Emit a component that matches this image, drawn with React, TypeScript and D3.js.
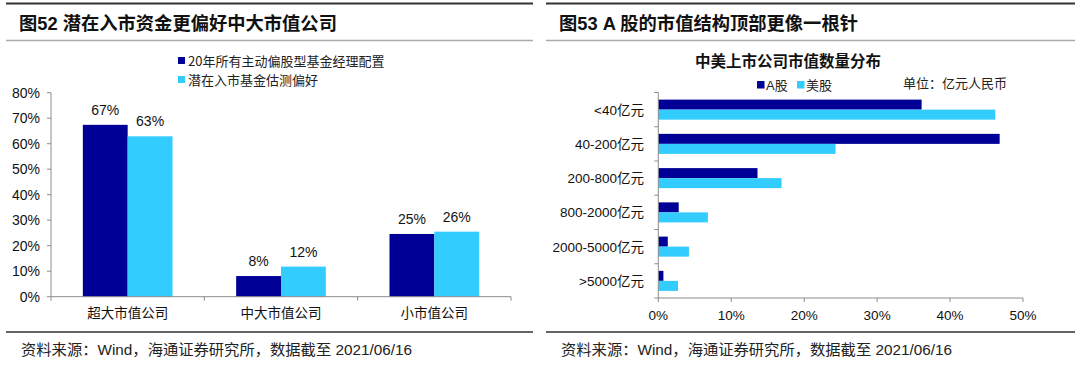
import * as d3 from "d3";

const leftCats = ["超大市值公司", "中大市值公司", "小市值公司"];
const leftSeries = ["20年所有主动偏股型基金经理配置", "潜在入市基金估测偏好"];
const managerAlloc = [67.4, 8.1, 24.6];
const inflowPref = [62.9, 11.8, 25.5];
const leftTicks = [0, 10, 20, 30, 40, 50, 60, 70, 80];

const rightCats = ["<40亿元", "40-200亿元", "200-800亿元", "800-2000亿元", "2000-5000亿元", ">5000亿元"];
const rightSeries = ["A股", "美股"];
const aShares = [36.1, 46.8, 13.6, 2.8, 1.3, 0.7];
const usShares = [46.2, 24.3, 16.9, 6.8, 4.2, 2.7];
const rightTicks = [0, 10, 20, 30, 40, 50];

const DARK = "#000096";
const LIGHT = "#33CCFF";
const AXIS = "#8c8c8c";
const NUM_FONT = "'Liberation Sans', Arial, 'Noto Sans CJK SC', sans-serif";
const CJK_FONT = "'Noto Sans CJK SC', sans-serif";
const colors = [DARK, LIGHT];

function Frame({ x0, x1, title }: { x0: number; x1: number; title: string }) {
	return (
		<g>
			<line x1={x0} x2={x1} y1={3.5} y2={3.5} stroke="#333" strokeWidth={2} />
			<text x={x0 + 13} y={30} fontSize={18.3} fontWeight="bold" fontFamily={NUM_FONT} fill="#111">
				{title}
			</text>
			<line x1={x0} x2={x1} y1={40.5} y2={40.5} stroke="#aaa" strokeWidth={1.5} />
			<line x1={x0} x2={x1} y1={332} y2={332} stroke="#333" strokeWidth={1.5} />
			<text x={x0 + 15} y={355} fontSize={15.3} fontFamily={NUM_FONT} fill="#222">
				资料来源：Wind，海通证券研究所，数据截至 2021/06/16
			</text>
		</g>
	);
}

function LeftChart() {
	const x = d3.scaleBand().domain(leftCats).range([51, 511]).padding(0);
	const x1 = d3.scaleBand().domain(leftSeries).range([0, x.bandwidth()]).paddingOuter(0.71).paddingInner(0);
	const y = d3.scaleLinear().domain([0, 80]).range([296.7, 92.7]);
	const data = [managerAlloc, inflowPref];
	return (
		<g fontFamily={NUM_FONT}>
			{leftSeries.map((s, i) => (
				<g key={s}>
					<rect x={178} y={57 + i * 19} width={7} height={7} fill={colors[i]} />
					<text x={188} y={65.5 + i * 19} fontSize={13} fontFamily={CJK_FONT} fill="#222">
						{s}
					</text>
				</g>
			))}
			{leftCats.map((c, ci) =>
				data.map((vals, si) => (
					<g key={c + si}>
						<rect
							x={(x(c) ?? 0) + (x1(leftSeries[si]) ?? 0)}
							y={y(vals[ci])}
							width={x1.bandwidth()}
							height={y(0) - y(vals[ci])}
							fill={colors[si]}
						/>
						<text
							x={(x(c) ?? 0) + (x1(leftSeries[si]) ?? 0) + x1.bandwidth() / 2}
							y={y(vals[ci]) - 10}
							textAnchor="middle"
							fontSize={14}
							fill="#111"
						>
							{Math.round(vals[ci])}%
						</text>
					</g>
				))
			)}
			<line x1={51} x2={51} y1={y(80)} y2={y(0)} stroke={AXIS} />
			{leftTicks.map((t) => (
				<g key={t}>
					<line x1={47} x2={51} y1={y(t)} y2={y(t)} stroke={AXIS} />
					<text x={40} y={y(t) + 5} textAnchor="end" fontSize={14} fill="#111">
						{t}%
					</text>
				</g>
			))}
			<line x1={51} x2={511} y1={y(0)} y2={y(0)} stroke={AXIS} />
			{[...leftCats.map((c) => x(c) ?? 0), 511].map((v, i) => (
				<line key={i} x1={v} x2={v} y1={y(0)} y2={y(0) + 4} stroke={AXIS} />
			))}
			{leftCats.map((c) => (
				<text
					key={c}
					x={(x(c) ?? 0) + x.bandwidth() / 2}
					y={318}
					textAnchor="middle"
					fontSize={13.5}
					fontFamily={CJK_FONT}
					fill="#111"
				>
					{c}
				</text>
			))}
		</g>
	);
}

function RightChart() {
	const y = d3.scaleBand().domain(rightCats).range([92.5, 298]).padding(0);
	const y1 = d3.scaleBand().domain(rightSeries).range([0, y.bandwidth()]).paddingOuter(0.71).paddingInner(0);
	const x = d3.scaleLinear().domain([0, 50]).range([658.3, 1023]);
	const data = [aShares, usShares];
	return (
		<g fontFamily={NUM_FONT}>
			<text x={788} y={67} textAnchor="middle" fontSize={15.5} fontWeight="bold" fontFamily={CJK_FONT} fill="#111">
				中美上市公司市值数量分布
			</text>
			{rightSeries.map((s, i) => (
				<g key={s}>
					<rect x={757 + i * 40} y={81} width={7.5} height={7.5} fill={colors[i]} />
					<text x={766 + i * 40} y={89.5} fontSize={13} fill="#222">
						{s}
					</text>
				</g>
			))}
			<text x={903} y={88} fontSize={13} fontFamily={CJK_FONT} fill="#222">
				单位：亿元人民币
			</text>
			{rightCats.map((c, ci) =>
				data.map((vals, si) => (
					<rect
						key={c + si}
						x={x(0)}
						y={(y(c) ?? 0) + (y1(rightSeries[si]) ?? 0)}
						width={x(vals[ci]) - x(0)}
						height={y1.bandwidth()}
						fill={colors[si]}
					/>
				))
			)}
			<line x1={x(0)} x2={x(0)} y1={92.5} y2={298} stroke={AXIS} />
			{[...rightCats.map((c) => y(c) ?? 0), 298].map((v, i) => (
				<line key={i} x1={x(0) - 4} x2={x(0)} y1={v} y2={v} stroke={AXIS} />
			))}
			{rightCats.map((c) => (
				<text
					key={c}
					x={644}
					y={(y(c) ?? 0) + y.bandwidth() / 2 + 5}
					textAnchor="end"
					fontSize={13.5}
					fill="#111"
				>
					{c}
				</text>
			))}
			<line x1={x(0)} x2={x(50)} y1={298} y2={298} stroke={AXIS} />
			{rightTicks.map((t) => (
				<g key={t}>
					<line x1={x(t)} x2={x(t)} y1={298} y2={302} stroke={AXIS} />
					<text x={x(t)} y={320} textAnchor="middle" fontSize={13.5} fill="#111">
						{t}%
					</text>
				</g>
			))}
		</g>
	);
}

export default function App() {
	return (
		<svg
			width={1080}
			height={365}
			style={{ position: "absolute", left: 0, top: 0, background: "#fff" }}
		>
			<rect width={1080} height={365} fill="#fff" />
			<Frame x0={6} x1={533} title="图52 潜在入市资金更偏好中大市值公司" />
			<Frame x0={546} x1={1075} title="图53 A 股的市值结构顶部更像一根针" />
			<LeftChart />
			<RightChart />
		</svg>
	);
}
